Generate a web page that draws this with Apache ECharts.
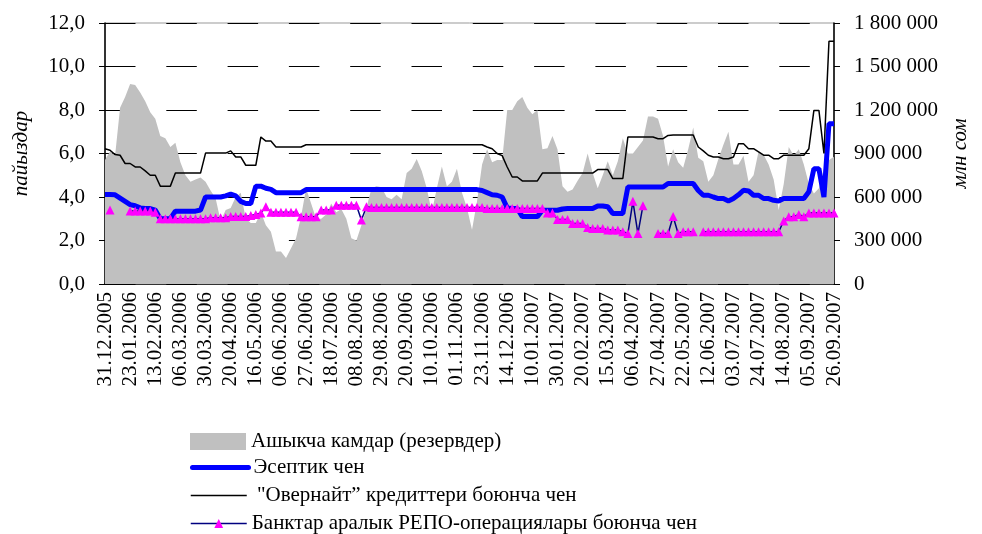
<!DOCTYPE html>
<html>
<head>
<meta charset="utf-8">
<script src="https://cdn.jsdelivr.net/npm/echarts@6/dist/echarts.min.js"></script>
<style>
  html, body { margin: 0; padding: 0; background: #fff; }
  #chart { width: 982px; height: 534px; }
</style>
</head>
<body>
<div id="chart"></div>
<script>
// tick labels on the date axis, one every 5 points
const tickLabels = [
  "31.12.2005", "23.01.2006", "13.02.2006", "06.03.2006", "30.03.2006", "20.04.2006",
  "16.05.2006", "06.06.2006", "27.06.2006", "18.07.2006", "08.08.2006", "29.08.2006",
  "20.09.2006", "10.10.2006", "01.11.2006", "23.11.2006", "14.12.2006", "10.01.2007",
  "30.01.2007", "20.02.2007", "15.03.2007", "06.04.2007", "27.04.2007", "22.05.2007",
  "12.06.2007", "03.07.2007", "24.07.2007", "14.08.2007", "05.09.2007", "26.09.2007"
];
const pointsPerTick = 5;

// Ашыкча камдар (резервдер), млн сом, right axis
const reserves = [
  855000, 915000, 885000, 1215000, 1290000, 1380000, 1372000, 1320000, 1260000, 1185000,
  1140000, 1020000, 1005000, 945000, 975000, 840000, 750000, 705000, 720000, 735000,
  705000, 645000, 592000, 435000, 510000, 525000, 600000, 630000, 450000, 420000,
  420000, 495000, 405000, 360000, 225000, 225000, 180000, 247000, 315000, 465000,
  660000, 555000, 450000, 450000, 480000, 555000, 495000, 517000, 450000, 315000,
  300000, 405000, 525000, 660000, 675000, 667000, 600000, 585000, 615000, 585000,
  765000, 795000, 862000, 780000, 660000, 495000, 660000, 810000, 675000, 705000,
  795000, 630000, 525000, 375000, 570000, 825000, 930000, 840000, 855000, 855000,
  1200000, 1200000, 1260000, 1290000, 1215000, 1170000, 1200000, 930000, 937000, 1020000,
  930000, 675000, 637000, 652000, 712000, 765000, 900000, 765000, 660000, 750000,
  847000, 750000, 847000, 1005000, 900000, 900000, 945000, 990000, 1155000, 1155000,
  1140000, 1020000, 810000, 930000, 840000, 802000, 930000, 1080000, 870000, 847000,
  705000, 750000, 862000, 960000, 1050000, 825000, 825000, 885000, 705000, 750000,
  915000, 892000, 825000, 720000, 510000, 690000, 945000, 885000, 930000, 825000,
  690000, 624000, 660000, 795000, 855000, 877000
];

// Эсептик чен, %
const discountRate = [
  4.12, 4.12, 4.1, 3.95, 3.8, 3.65, 3.6, 3.5, 3.47, 3.47,
  3.4, 3.0, 3.0, 3.0, 3.35, 3.35, 3.35, 3.35, 3.35, 3.4,
  4.0, 4.0, 4.0, 4.0, 4.05, 4.13, 4.05, 3.8, 3.7, 3.7,
  4.5, 4.5, 4.4, 4.35, 4.2, 4.2, 4.2, 4.2, 4.2, 4.2,
  4.34, 4.34, 4.34, 4.34, 4.34, 4.34, 4.34, 4.34, 4.34, 4.34,
  4.34, 4.34, 4.34, 4.34, 4.34, 4.34, 4.34, 4.34, 4.34, 4.34,
  4.34, 4.34, 4.34, 4.34, 4.34, 4.34, 4.34, 4.34, 4.34, 4.34,
  4.34, 4.34, 4.34, 4.34, 4.34, 4.3, 4.2, 4.1, 4.08, 4.0,
  3.5, 3.47, 3.47, 3.1, 3.1, 3.1, 3.1, 3.39, 3.39, 3.39,
  3.39, 3.45, 3.47, 3.47, 3.47, 3.47, 3.47, 3.47, 3.59, 3.59,
  3.55, 3.24, 3.24, 3.24, 4.46, 4.46, 4.46, 4.46, 4.46, 4.46,
  4.46, 4.46, 4.62, 4.62, 4.62, 4.62, 4.62, 4.62, 4.3, 4.08,
  4.08, 4.0, 3.93, 3.93, 3.82, 3.93, 4.1, 4.31, 4.28, 4.08,
  4.08, 3.93, 3.93, 3.85, 3.82, 3.93, 3.93, 3.93, 3.93, 3.93,
  4.24, 5.3, 5.3, 4.0, 7.37, 7.37
];

// "Овернайт" кредиттери боюнча чен, %
const overnightRate = [
  6.22, 6.15, 5.95, 5.92, 5.54, 5.54, 5.38, 5.38, 5.2, 5.0,
  5.0, 4.5, 4.5, 4.5, 5.1, 5.1, 5.1, 5.1, 5.1, 5.1,
  6.02, 6.02, 6.02, 6.02, 6.02, 6.12, 5.84, 5.84, 5.46, 5.46,
  5.46, 6.76, 6.57, 6.57, 6.3, 6.3, 6.3, 6.3, 6.3, 6.3,
  6.4, 6.4, 6.4, 6.4, 6.4, 6.4, 6.4, 6.4, 6.4, 6.4,
  6.4, 6.4, 6.4, 6.4, 6.4, 6.4, 6.4, 6.4, 6.4, 6.4,
  6.4, 6.4, 6.4, 6.4, 6.4, 6.4, 6.4, 6.4, 6.4, 6.4,
  6.4, 6.4, 6.4, 6.4, 6.4, 6.4, 6.3, 6.22, 6.0, 5.9,
  5.38, 4.92, 4.92, 4.74, 4.74, 4.74, 4.74, 5.1, 5.1, 5.1,
  5.1, 5.1, 5.1, 5.1, 5.1, 5.1, 5.1, 5.1, 5.26, 5.26,
  5.26, 4.85, 4.85, 4.85, 6.76, 6.76, 6.76, 6.76, 6.76, 6.76,
  6.68, 6.68, 6.83, 6.85, 6.85, 6.85, 6.85, 6.85, 6.3, 6.12,
  5.92, 5.84, 5.84, 5.76, 5.76, 5.84, 6.45, 6.45, 6.22, 6.22,
  6.07, 5.92, 5.92, 5.76, 5.76, 5.92, 5.92, 5.92, 5.92, 5.92,
  6.22, 7.98, 7.98, 6.0, 11.16, 11.16
];

// Банктар аралык РЕПО-операциялары боюнча чен, %
const repoRate = [
  null, 3.4, null, null, null, 3.36, 3.36, 3.36, 3.36, 3.36,
  3.3, 3.0, 3.0, 3.0, 3.0, 3.0, 3.0, 3.0, 3.0, 3.0,
  3.0, 3.05, 3.05, 3.05, 3.05, 3.1, 3.1, 3.1, 3.1, 3.15,
  3.2, 3.27, 3.55, 3.3, 3.3, 3.3, 3.3, 3.3, 3.3, 3.09,
  3.09, 3.09, 3.09, 3.4, 3.4, 3.4, 3.62, 3.62, 3.62, 3.62,
  3.62, 2.94, 3.55, 3.52, 3.52, 3.52, 3.52, 3.52, 3.52, 3.52,
  3.52, 3.52, 3.52, 3.52, 3.52, 3.52, 3.52, 3.52, 3.52, 3.52,
  3.52, 3.52, 3.52, 3.52, 3.52, 3.52, 3.47, 3.47, 3.47, 3.47,
  3.47, 3.47, 3.47, 3.47, 3.47, 3.47, 3.47, 3.47, 3.27, 3.27,
  2.97, 2.97, 2.97, 2.78, 2.78, 2.78, 2.6, 2.55, 2.55, 2.55,
  2.48, 2.48, 2.48, 2.4, 2.32, 3.8, 2.32, 3.6, null, null,
  2.32, 2.32, 2.32, 3.1, 2.32, 2.4, 2.4, 2.4, null, 2.4,
  2.4, 2.4, 2.4, 2.4, 2.4, 2.4, 2.4, 2.4, 2.4, 2.4,
  2.4, 2.4, 2.4, 2.4, 2.4, 2.9, 3.09, 3.09, 3.2, 3.09,
  3.27, 3.27, 3.27, 3.27, 3.27, 3.27
];

const seriesNames = [
  "Ашыкча камдар (резервдер)",
  "Эсептик чен",
  " \"Овернайт\u201d кредиттери боюнча чен",
  "Банктар аралык РЕПО-операциялары боюнча чен"
];

const font = "'Times New Roman', 'Liberation Serif', serif";
const categories = reserves.map((_, i) => String(i));

// one legend block per row so the rows sit where the original has them
const legendRow = (item, top, itemHeight) => ({
  orient: "vertical",
  left: 190, top: top,
  padding: 0,
  itemWidth: 56, itemHeight: itemHeight,
  textStyle: { fontFamily: font, fontSize: 21, lineHeight: 18, color: "#000" },
  data: [item]
});

const chart = echarts.init(document.getElementById("chart"));
chart.setOption({
  animation: false,
  textStyle: { fontFamily: font, color: "#000" },
  grid: {
    left: 105, right: 148, top: 23, bottom: 250,
    outerBoundsMode: "none",
    containLabel: false,
    show: true, borderColor: "#999", borderWidth: 1, backgroundColor: "transparent"
  },
  legend: [
    legendRow({ name: seriesNames[0], icon: "rect" }, 431, 17),
    legendRow({ name: seriesNames[1], itemStyle: { opacity: 0 },
      lineStyle: { width: 5, color: "#0000ff", cap: "round" } }, 457, 16),
    legendRow({ name: seriesNames[2], itemStyle: { opacity: 0 },
      lineStyle: { width: 1.5, color: "#000" } }, 485, 16),
    legendRow({ name: seriesNames[3], lineStyle: { width: 1.5, color: "#000080" } }, 513, 11)
  ],
  xAxis: {
    type: "category",
    boundaryGap: false,
    data: categories,
    axisLine: { lineStyle: { color: "#000", width: 1.5 } },
    axisTick: { show: false },
    axisLabel: {
      interval: pointsPerTick - 1,
      rotate: 90,
      margin: 8,
      fontSize: 21,
      fontFamily: font,
      color: "#000",
      formatter: (v, idx) => idx % pointsPerTick === 0 ? tickLabels[idx / pointsPerTick] : ""
    }
  },
  yAxis: [
    {
      type: "value",
      min: 0, max: 12, interval: 2,
      name: "пайыздар",
      nameLocation: "middle",
      nameRotate: 90,
      nameGap: 73,
      nameTextStyle: { fontFamily: font, fontSize: 21, fontStyle: "italic", color: "#000" },
      axisLine: { show: true, lineStyle: { color: "#000", width: 1.5 } },
      axisTick: { show: true, length: 6, lineStyle: { color: "#000" } },
      axisLabel: {
        margin: 20, fontSize: 21, fontFamily: font, color: "#000",
        formatter: v => v.toFixed(1).replace(".", ",")
      },
      splitLine: {
        show: true,
        lineStyle: { color: "#000", width: 1, type: [30.5, 30.8], dashOffset: 0 }
      }
    },
    {
      type: "value",
      min: 0, max: 1800000, interval: 300000,
      name: "млн сом",
      nameLocation: "middle",
      nameRotate: 90,
      nameGap: 116,
      nameTextStyle: { fontFamily: font, fontSize: 21, fontStyle: "italic", color: "#000" },
      axisLine: { show: true, lineStyle: { color: "#000", width: 1.5 } },
      axisTick: { show: true, length: 6, lineStyle: { color: "#000" } },
      axisLabel: {
        margin: 20, fontSize: 21, fontFamily: font, color: "#000",
        formatter: v => String(v).replace(/\B(?=(\d{3})+(?!\d))/g, " ")
      },
      splitLine: { show: false }
    }
  ],
  series: [
    {
      name: seriesNames[0],
      type: "line",
      yAxisIndex: 1,
      data: reserves,
      symbol: "none",
      color: "#c0c0c0",
      lineStyle: { width: 0 },
      areaStyle: { color: "#c0c0c0", opacity: 1 }
    },
    {
      name: seriesNames[1],
      type: "line",
      data: discountRate,
      symbol: "none",
      color: "#0000ff",
      lineStyle: { color: "#0000ff", width: 5 }
    },
    {
      name: seriesNames[2],
      type: "line",
      data: overnightRate,
      symbol: "none",
      color: "#000",
      lineStyle: { color: "#000", width: 1.5 }
    },
    {
      name: seriesNames[3],
      type: "line",
      data: repoRate,
      symbol: "triangle",
      symbolSize: 9,
      showAllSymbol: true,
      connectNulls: false,
      color: "#ff00ff",
      itemStyle: { color: "#ff00ff" },
      lineStyle: { color: "#000080", width: 1.5 }
    }
  ]
});
</script>
</body>
</html>
